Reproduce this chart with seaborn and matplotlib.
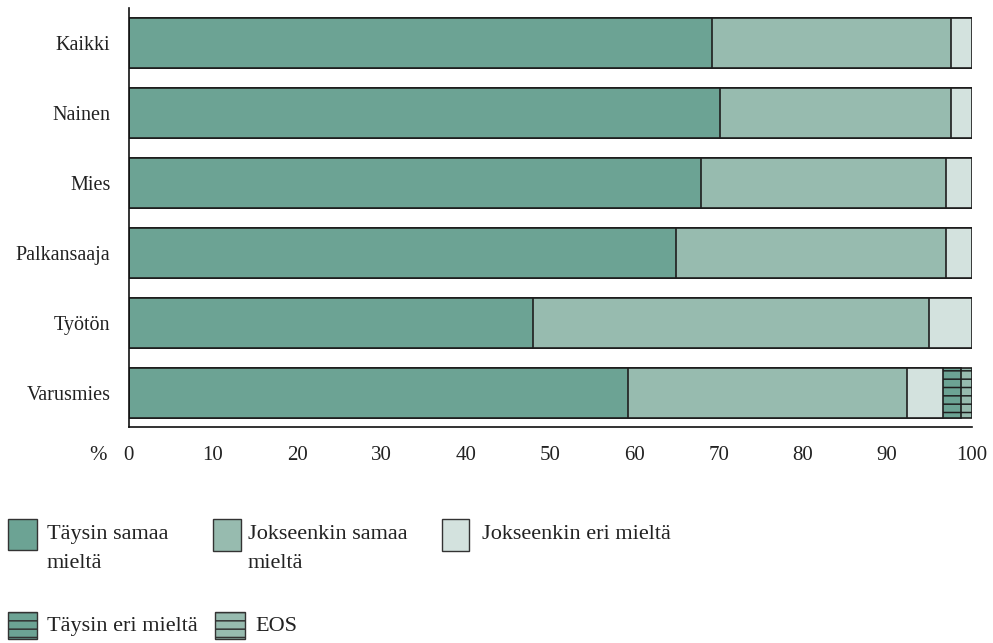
import matplotlib
matplotlib.use('Agg')
import matplotlib.pyplot as plt
from matplotlib.patches import Rectangle
import seaborn as sns
import pandas as pd

ryhmat = ['Kaikki', 'Nainen', 'Mies', 'Palkansaaja', 'Työtön', 'Varusmies']

taysin_samaa = [69.2, 70.2, 67.9, 64.9, 48.0, 59.2]
jokseenkin_samaa = [28.4, 27.4, 29.1, 32.1, 47.0, 33.2]
jokseenkin_eri = [2.4, 2.4, 3.0, 3.0, 5.0, 4.2]
taysin_eri = [0, 0, 0, 0, 0, 2.2]
eos = [0, 0, 0, 0, 0, 1.2]

sarjat = ['Täysin samaa\nmieltä', 'Jokseenkin samaa\nmieltä', 'Jokseenkin eri mieltä',
          'Täysin eri mieltä', 'EOS']
varit = ['#6CA394', '#97BBAF', '#D3E2DE', '#6CA394', '#97BBAF']
viivoitus = [None, None, None, '--', '--']

sns.set_style('white')
plt.rcParams['font.family'] = ['Liberation Serif', 'DejaVu Serif']
plt.rcParams['hatch.linewidth'] = 1.1

df = pd.DataFrame({'Ryhma': ryhmat,
                   sarjat[0]: taysin_samaa,
                   sarjat[1]: jokseenkin_samaa,
                   sarjat[2]: jokseenkin_eri,
                   sarjat[3]: taysin_eri,
                   sarjat[4]: eos})

# kumulatiiviset summat, piirretään suurimmasta pienimpään päällekkäin
kum = df[sarjat].cumsum(axis=1)
kum['Ryhma'] = df['Ryhma']

W, H = 993, 643
fig = plt.figure(figsize=(W / 100, H / 100), dpi=100)
ax = fig.add_axes([128.5 / W, 1 - 426.5 / H, 843 / W, 418.5 / H])

for s, c, h in list(zip(sarjat, varit, viivoitus))[::-1]:
    sns.barplot(data=kum, x=s, y='Ryhma', order=ryhmat, orient='h', color=c,
                saturation=1, width=0.714, edgecolor='#1e1e1e', linewidth=1.2,
                hatch=h, ax=ax)

ax.set_xlim(0, 100)
ax.set_ylim(5.48, -0.5)
ax.set_xticks(range(0, 101, 10))
ax.set_xlabel('')
ax.set_ylabel('')
ax.tick_params(axis='x', length=0, pad=14, labelsize=15, colors='#222222')
ax.tick_params(axis='y', length=0, pad=13, labelsize=14.5, colors='#222222')
for k in ['top', 'right']:
    ax.spines[k].set_visible(False)
for k in ['left', 'bottom']:
    ax.spines[k].set_color('#111111')
    ax.spines[k].set_linewidth(1.2)

fig.text(98 / W, 1 - 455 / H, '%', ha='center', va='center', fontsize=15, color='#222222')

# selite: (ruudun x, ruudun yläreuna, ruudun leveys, korkeus, tekstin x, tekstin yläreuna)
paikat = [(8, 519, 29, 31, 47, 525),
          (213, 519, 28, 32, 248, 525),
          (442, 519, 27, 32, 482, 525),
          (8, 612, 29, 27, 47, 617),
          (215, 612, 30, 27, 255, 617)]

for (px, py, pw, ph, tx, ty), nimi, c, h in zip(paikat, sarjat, varit, viivoitus):
    fig.add_artist(Rectangle((px / W, 1 - (py + ph) / H), pw / W, ph / H,
                             transform=fig.transFigure, facecolor=c,
                             edgecolor='#333333', linewidth=1.0, hatch=h))
    fig.text(tx / W, 1 - ty / H, nimi, ha='left', va='top', fontsize=16,
             linespacing=1.7, color='#222222')

fig.savefig('out.png', dpi=100)
